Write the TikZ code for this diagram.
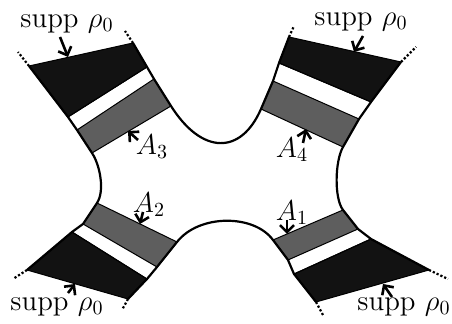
\documentclass[tikz,border=0pt]{standalone}
\usepackage{amsmath,amssymb}
\usepackage{tikz}
\usetikzlibrary{arrows.meta}
\definecolor{ArmBlack}{HTML}{121212}
\definecolor{ArmGray}{HTML}{5E5E5E}

\begin{document}
\begin{tikzpicture}[
    x=0.5pt, y=-0.5pt,
    wall/.style={line width=1.1pt, black},
    band/.style={draw=black, line width=0.5pt},
    blackband/.style={band, fill=ArmBlack},
    grayband/.style={band, fill=ArmGray},
    ext/.style={line width=1.1pt, densely dotted},
    lbl/.style={font=\Large, inner sep=1pt},
    arrow/.style={-{Straight Barb[length=3.5pt,width=7pt]}, line width=1.3pt}
  ]
  \useasboundingbox (0,0) rectangle (452,324);

  % bands in the four arms
  \fill[blackband] (29,66) -- (133,43) -- (147,67) -- (68,117) -- cycle;
  \fill[grayband] (77,130) -- (154,79) -- (171,106) -- (92,153) -- cycle;
  \fill[blackband] (289,37) -- (401,62) -- (371,102) -- (279,63) -- cycle;
  \fill[grayband] (273,81) -- (359,119) -- (343,147) -- (261,109) -- cycle;
  \fill[grayband] (97,203) -- (177,242) -- (157,267) -- (83,224) -- cycle;
  \fill[blackband] (72,232) -- (147,279) -- (128,299) -- (27,270) -- cycle;
  \fill[grayband] (273,240) -- (343,210) -- (358,229) -- (288,260) -- cycle;
  \fill[blackband] (294,274) -- (371,239) -- (429,270) -- (316,302) -- cycle;
  \draw[band] (68,117) -- (147,67);
  \draw[band] (279,63) -- (371,102);
  \draw[band] (72,232) -- (147,279);
  \draw[band] (294,274) -- (371,239);

  % walls of the domain
  \draw[wall] (29,66) -- (68,117) -- (77,130) -- (92,153)
    .. controls (100,165) and (105,191) .. (97,203)
    -- (83,224) -- (72,232) -- (27,270);
  \draw[wall] (133,43) -- (147,67) -- (154,79) -- (171,106)
    .. controls (202,155) and (241,155) .. (261,109)
    -- (273,81) -- (279,63) -- (289,37);
  \draw[wall] (401,62) -- (371,102) -- (359,119) -- (343,147)
    .. controls (335,161) and (334,198) .. (343,210)
    -- (358,229) -- (371,239) -- (429,270);
  \draw[wall] (128,299) -- (147,279) -- (157,267) -- (177,242)
    .. controls (199,214) and (254,214) .. (273,240)
    -- (288,260) -- (294,274) -- (316,302);

  % dotted continuations
  \draw[ext] (29,66) -- (18,52);
  \draw[ext] (133,43) -- (125,31);
  \draw[ext] (289,37) -- (294,26);
  \draw[ext] (401,62) -- (416,47);
  \draw[ext] (27,270) -- (13,279);
  \draw[ext] (128,299) -- (122,310);
  \draw[ext] (316,302) -- (323,315);
  \draw[ext] (429,270) -- (448,279);

  % labels
  \node[lbl] (suppTL) at (67,24) {supp $\rho_0$};
  \node[lbl] (suppTR) at (361,22) {supp $\rho_0$};
  \node[lbl] (suppBL) at (57,307) {supp $\rho_0$};
  \node[lbl] (suppBR) at (404,307) {supp $\rho_0$};
  \node[lbl] (A3) at (152,147) {$A_3$};
  \node[lbl] (A4) at (292,150) {$A_4$};
  \node[lbl] (A2) at (149,205) {$A_2$};
  \node[lbl] (A1) at (292,213) {$A_1$};

  \coordinate (tTL) at (60,37);   \coordinate (pTL) at (68,57);
  \coordinate (tTR) at (363,36);  \coordinate (pTR) at (354,52);
  \coordinate (tBL) at (68,293);  \coordinate (pBL) at (75,284);
  \coordinate (tBR) at (392,297); \coordinate (pBR) at (383,284);
  \coordinate (t3) at (138,140);  \coordinate (p3) at (128,131);
  \coordinate (t4) at (303,143);  \coordinate (p4) at (306,129);
  \coordinate (t2) at (143,212);  \coordinate (p2) at (140,224);
  \coordinate (t1) at (287,220);  \coordinate (p1) at (287,234);

  \draw[arrow] (tTL) -- (pTL);
  \draw[arrow] (tTR) -- (pTR);
  \draw[arrow] (tBL) -- (pBL);
  \draw[arrow] (tBR) -- (pBR);
  \draw[arrow] (t3) -- (p3);
  \draw[arrow] (t4) -- (p4);
  \draw[arrow] (t2) -- (p2);
  \draw[arrow] (t1) -- (p1);

\end{tikzpicture}
\end{document}
